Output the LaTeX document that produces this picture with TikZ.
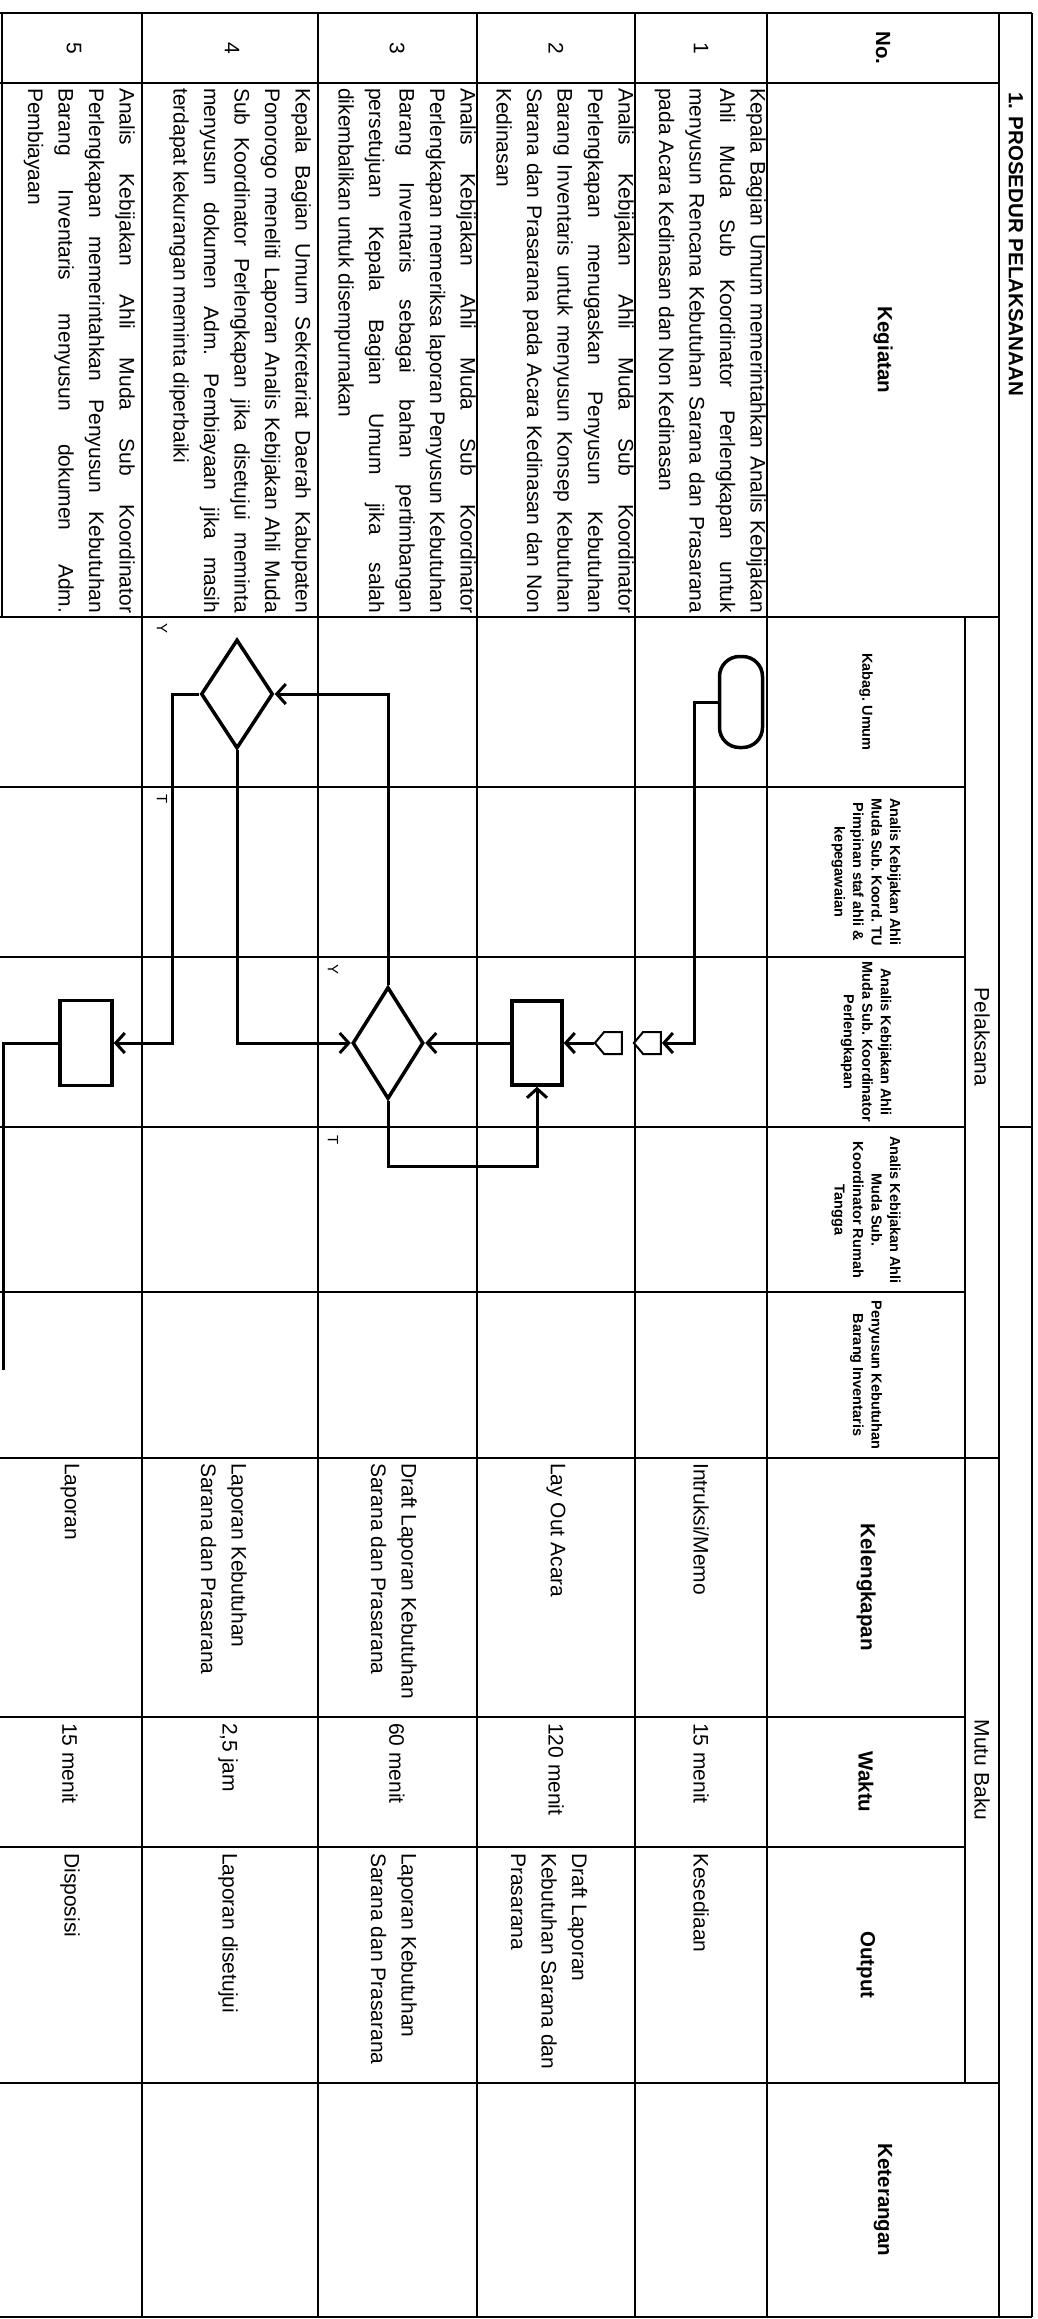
\documentclass[tikz,border=0pt]{standalone}
\usepackage{fontspec}
\setmainfont{Liberation Sans}
\usetikzlibrary{arrows.meta,shapes.geometric,shapes.symbols}
\tolerance=10000 \pretolerance=10000 \hbadness=10000 \hfuzz=30pt \hyphenpenalty=10000
\newcommand\bodyfont{\fontsize{21}{30.5}\selectfont\frenchspacing}
\begin{document}
\begin{tikzpicture}[x=1pt,y=-1pt,
  grid/.style={line width=2pt},
  kg/.style={rotate=-90,anchor=north west,inner sep=0pt,text width=525pt,align=justify,font=\bodyfont},
  cell/.style={rotate=-90,anchor=west,inner sep=0pt,align=left,font=\bodyfont},
  num/.style={rotate=-90,inner sep=0pt,font=\bodyfont},
  hd/.style={rotate=-90,inner sep=0pt,align=center,font=\bfseries\fontsize{20.5}{24}\selectfont},
  lanehd/.style={rotate=-90,inner sep=0pt,align=center,font=\bfseries\fontsize{14.5}{18.5}\selectfont\frenchspacing},
  grp/.style={rotate=-90,inner sep=0pt,font=\fontsize{21}{24}\selectfont},
  yt/.style={rotate=-90,inner sep=0pt,font=\fontsize{15}{18}\selectfont},
  shp/.style={draw,line width=3.5pt,fill=white,inner sep=0pt},
  opc/.style={draw,line width=2pt,fill=white,signal,signal to=west,signal pointer angle=100,inner sep=0pt,minimum width=27pt,minimum height=22pt},
  flow/.style={line width=3pt,-{Straight Barb[length=9pt,width=20pt]}},
  plainflow/.style={line width=3pt},
]
\useasboundingbox (0,0) rectangle (1038,2319);
\fill[white] (0,0) rectangle (1038,2319);

% ---------- grid ----------
\foreach \x in {142,318,477,635,767} \draw[grid] (\x,13) -- (\x,2317);
\draw[grid] (965,617) -- (965,2083);
\draw[grid] (999,13) -- (999,2317);
\draw[grid] (1032,13) -- (1032,2317);
\draw[grid] (2,13) -- (2,617);
\draw[grid] (0,13) -- (1032,13);
\draw[grid] (0,2317) -- (1032,2317);
\foreach \y in {83,617,1458,2083} \draw[grid] (0,\y) -- (999,\y);
\foreach \y in {787,957,1127,1292,1717,1847} \draw[grid] (0,\y) -- (965,\y);
\draw[grid] (999,1127) -- (1032,1127);

% ---------- headers ----------
\node[hd,anchor=west] (title) at (1016,92) {1. PROSEDUR PELAKSANAAN};
\node[grp] (pel) at (982,1037) {Pelaksana};
\node[grp] (mutu) at (982,1770) {Mutu Baku};
\node[hd] (hno) at (883,48) {No.};
\node[hd] (hkeg) at (883,350) {Kegiatan};
\node[hd] (hket) at (883,2200) {Keterangan};
\node[hd] (hkel) at (866,1587) {Kelengkapan};
\node[hd] (hwak) at (866,1782) {Waktu};
\node[hd] (hout) at (866,1965) {Output};
\node[lanehd] (l1) at (866,702) {Kabag. Umum};
\node[lanehd] (l2) at (866,872) {Analis Kebijakan Ahli\\Muda Sub. Koord. TU\\Pimpinan staf ahli \&\\kepegawaian};
\node[lanehd] (l3) at (866,1042) {Analis Kebijakan Ahli\\Muda Sub. Koordinator\\Perlengkapan};
\node[lanehd] (l4) at (866,1210) {Analis Kebijakan Ahli\\Muda Sub.\\Koordinator Rumah\\Tangga};
\node[lanehd] (l5) at (866,1375) {Penyusun Kebutuhan\\Barang Inventaris};

% ---------- numbers ----------
\node[num] (n1) at (701,48) {1};
\node[num] (n2) at (556,48) {2};
\node[num] (n3) at (397,48) {3};
\node[num] (n4) at (232,48) {4};
\node[num] (n5) at (74,48) {5};

% ---------- kegiatan ----------
\node[kg] (k1) at (766,88) {Kepala Bagian Umum memerintahkan Analis Kebijakan\linebreak Ahli Muda Sub Koordinator Perlengkapan untuk\linebreak menyusun Rencana Kebutuhan Sarana dan Prasarana\linebreak pada Acara Kedinasan dan Non Kedinasan};
\node[kg] (k2) at (634,88) {Analis Kebijakan Ahli Muda Sub Koordinator\linebreak Perlengkapan menugaskan Penyusun Kebutuhan\linebreak Barang Inventaris untuk menyusun Konsep Kebutuhan\linebreak Sarana dan Prasarana pada Acara Kedinasan dan Non\linebreak Kedinasan};
\node[kg] (k3) at (476,88) {Analis Kebijakan Ahli Muda Sub Koordinator\linebreak Perlengkapan memeriksa laporan Penyusun Kebutuhan\linebreak Barang Inventaris sebagai bahan pertimbangan\linebreak persetujuan Kepala Bagian Umum jika salah\linebreak dikembalikan untuk disempurnakan};
\node[kg] (k4) at (311,88) {Kepala Bagian Umum Sekretariat Daerah Kabupaten\linebreak Ponorogo meneliti Laporan Analis Kebijakan Ahli Muda\linebreak Sub Koordinator Perlengkapan jika disetujui meminta\linebreak menyusun dokumen Adm. Pembiayaan jika masih\linebreak terdapat kekurangan meminta diperbaiki};
\node[kg] (k5) at (135,88) {Analis Kebijakan Ahli Muda Sub Koordinator\linebreak Perlengkapan memerintahkan Penyusun Kebutuhan\linebreak Barang Inventaris menyusun dokumen Adm.\linebreak Pembiayaan};

% ---------- kelengkapan / waktu / output ----------
\node[cell] (a1) at (701,1463) {Intruksi/Memo};
\node[cell] (a2) at (556,1463) {Lay Out Acara};
\node[cell] (a3) at (394,1463) {Draft Laporan Kebutuhan\\Sarana dan Prasarana};
\node[cell] (a4) at (224,1463) {Laporan Kebutuhan\\Sarana dan Prasarana};
\node[cell] (a5) at (70,1463) {Laporan};
\node[cell] (w1) at (701,1723) {15 menit};
\node[cell] (w2) at (556,1723) {120 menit};
\node[cell] (w3) at (397,1723) {60 menit};
\node[cell] (w4) at (228,1723) {2,5 jam};
\node[cell] (w5) at (70,1723) {15 menit};
\node[cell] (o1) at (701,1853) {Kesediaan};
\node[cell] (o2) at (549,1853) {Draft Laporan\\Kebutuhan Sarana dan\\Prasarana};
\node[cell] (o3) at (394,1853) {Laporan Kebutuhan\\Sarana dan Prasarana};
\node[cell] (o4) at (228,1853) {Laporan disetujui};
\node[cell] (o5) at (70,1853) {Disposisi};

% ---------- flow shapes ----------
\node[shp,rounded corners=20pt,minimum width=43pt,minimum height=91pt] (pill) at (741,702) {};
\node[opc] (c1) at (652,1043) {};
\node[opc] (c2) at (613,1043) {};
\node[shp,minimum width=50pt,minimum height=84pt] (r2) at (537,1043) {};
\node[shp,diamond,minimum width=71pt,minimum height=112pt] (d3) at (388,1043) {};
\node[shp,diamond,minimum width=72pt,minimum height=109pt] (d4) at (237,694) {};
\node[shp,minimum width=52pt,minimum height=85pt] (r5) at (86,1043) {};
\coordinate (cont) at (3,1370);

\node[yt] (y1) at (162,628) {Y};
\node[yt] (t1) at (162,799) {T};
\node[yt] (y2) at (333,969) {Y};
\node[yt] (t2) at (333,1140) {T};

% ---------- connectors ----------
\draw[flow] (pill.west) -- ++(-23,0) |- (c1.east);
\draw[flow] (c2.west) -- (r2.east);
\draw[flow] (r2.west) -- (d3.east);
\draw[flow] (d3.south) -- ++(0,66) -| (r2.south);
\draw[flow] (d3.north) |- (d4.east);
\draw[flow] (d4.west) -- ++(-27,0) |- (r5.east);
\draw[flow] (d4.south) |- (d3.west);
\draw[plainflow] (r5.west) -| (cont);
\end{tikzpicture}
\end{document}
